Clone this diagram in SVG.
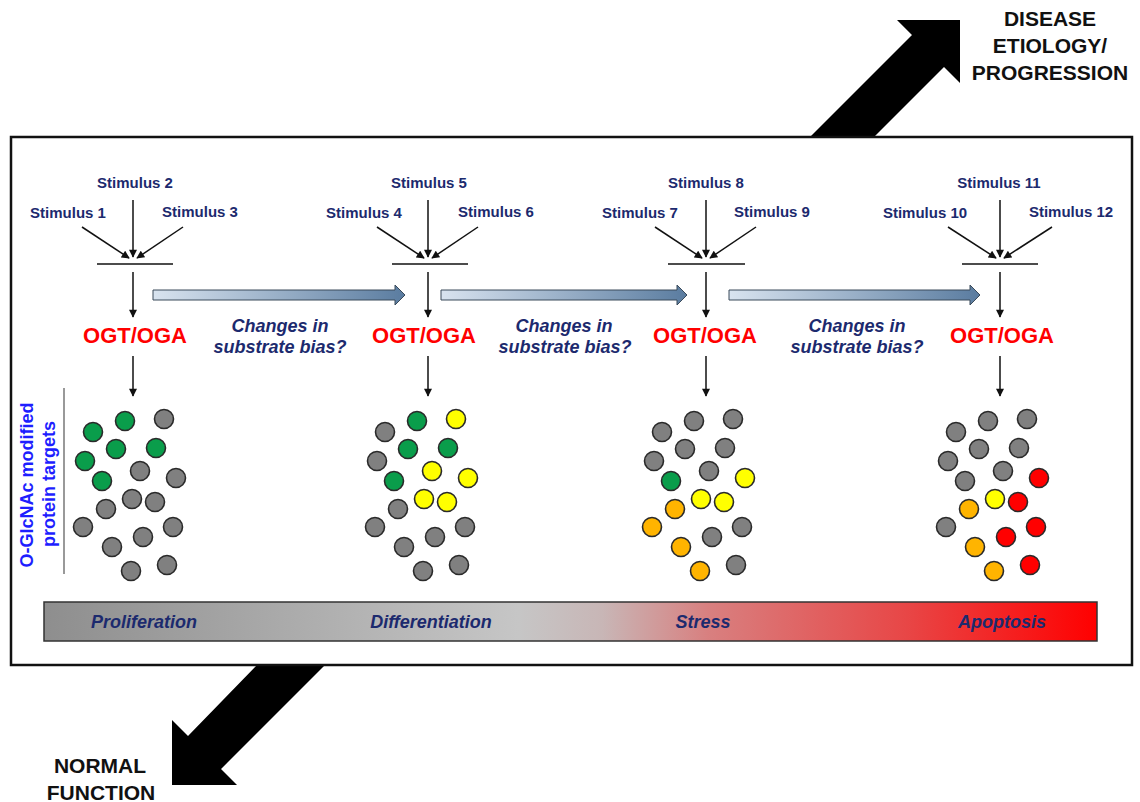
<svg xmlns="http://www.w3.org/2000/svg" width="1140" height="802" viewBox="0 0 1140 802">
<style>
.stim{font-family:"Liberation Sans",Arial,sans-serif;font-weight:bold;font-size:15px;fill:#1c2a6e;text-anchor:middle}
.ogt{font-family:"Liberation Sans",Arial,sans-serif;font-weight:bold;font-size:22px;fill:#ff0000;text-anchor:middle}
.chg{font-family:"Liberation Sans",Arial,sans-serif;font-weight:bold;font-style:italic;font-size:18px;fill:#1c2a6e;text-anchor:middle}
.bar{font-family:"Liberation Sans",Arial,sans-serif;font-weight:bold;font-style:italic;font-size:18px;fill:#1c2a6e;text-anchor:middle}
.big{font-family:"Liberation Sans",Arial,sans-serif;font-weight:bold;font-size:21px;fill:#111;text-anchor:middle}
.vlab{font-family:"Liberation Sans",Arial,sans-serif;font-weight:bold;font-size:18px;fill:#1e1eff;text-anchor:middle}
.ln{stroke:#111;stroke-width:1.5;fill:none}
.arr{stroke:#111;stroke-width:1.5;fill:none;marker-end:url(#ah)}
.blk{fill:url(#bg);stroke:#3a4a5a;stroke-width:1}
circle{stroke:#2a2a2a;stroke-width:1.6}
.g{fill:#0a9d4b}.k{fill:#808080}.y{fill:#ffff00}.o{fill:#ffb400}.r{fill:#ff0000}
</style>
<defs>
<marker id="ah" viewBox="0 0 10 10" refX="9" refY="5" markerWidth="9" markerHeight="8" orient="auto" markerUnits="userSpaceOnUse">
<path d="M0,0 L10,5 L0,10 z" fill="#111"/>
</marker>
<linearGradient id="bg" x1="0" y1="0" x2="1" y2="0">
<stop offset="0" stop-color="#d8e3ef"/>
<stop offset="1" stop-color="#5a7ca0"/>
</linearGradient>
<linearGradient id="pg" x1="0" y1="0" x2="1" y2="0">
<stop offset="0" stop-color="#8e8e8e"/>
<stop offset="0.45" stop-color="#c6c6c6"/>
<stop offset="0.53" stop-color="#c8b6b6"/>
<stop offset="0.63" stop-color="#d88080"/>
<stop offset="0.82" stop-color="#e84646"/>
<stop offset="1" stop-color="#ff0000"/>
</linearGradient>
</defs>
<rect width="1140" height="802" fill="#ffffff"/>

<g id="disease-arrow">
<polygon points="810,137 912,35 897,20 960,20 960,83 944,67 874,137" fill="#000"/>
<text class="big" x="1050" y="26">DISEASE</text>
<text class="big" x="1050" y="53">ETIOLOGY/</text>
<text class="big" x="1050" y="80">PROGRESSION</text>
</g>
<g id="normal-arrow">
<polygon points="257,665 188,736 172,720 172,785 237,785 221,769 325,665" fill="#000"/>
<text class="big" x="100" y="773">NORMAL</text>
<text class="big" x="101" y="800">FUNCTION</text>
</g>

<rect id="frame" x="11" y="137" width="1121" height="528" fill="#fff" stroke="#111" stroke-width="2.5"/>

<g id="ylabel">
<text class="vlab" transform="translate(33,485) rotate(-90)">O-GlcNAc modified</text>
<text class="vlab" transform="translate(55,484) rotate(-90)">protein targets</text>
<line x1="64" y1="388" x2="64" y2="574" stroke="#555" stroke-width="1.2"/>
</g>

<g id="connectors">
<polygon class="blk" points="153,290 395,290 395,285 405,295 395,305 395,300 153,300"/>
<polygon class="blk" points="441,290 677,290 677,285 687,295 677,305 677,300 441,300"/>
<polygon class="blk" points="729,290 970,290 970,285 980,295 970,305 970,300 729,300"/>
</g>

<g id="stage1">
<text class="stim" x="135" y="188">Stimulus 2</text>
<text class="stim" x="68" y="218">Stimulus 1</text>
<text class="stim" x="200" y="217">Stimulus 3</text>
<line class="arr" x1="133" y1="200" x2="133" y2="257"/>
<line class="arr" x1="82" y1="227" x2="129" y2="258"/>
<line class="arr" x1="183" y1="227" x2="137" y2="258"/>
<line class="ln" x1="97" y1="264" x2="173" y2="264"/>
<line class="arr" x1="133" y1="272" x2="133" y2="317"/>
<text class="ogt" x="135" y="343">OGT/OGA</text>
<line class="arr" x1="133" y1="356" x2="133" y2="396"/>
<g transform="translate(0,0)">
<circle class="g" cx="93" cy="432" r="9.5"/><circle class="g" cx="125" cy="421" r="9.5"/><circle class="k" cx="164" cy="419" r="9.5"/>
<circle class="g" cx="116" cy="449" r="9.5"/><circle class="g" cx="156" cy="448" r="9.5"/><circle class="g" cx="85" cy="461" r="9.5"/>
<circle class="k" cx="140" cy="471" r="9.5"/><circle class="k" cx="176" cy="478" r="9.5"/><circle class="g" cx="102" cy="481" r="9.5"/>
<circle class="k" cx="132" cy="499" r="9.5"/><circle class="k" cx="155" cy="502" r="9.5"/><circle class="k" cx="106" cy="509" r="9.5"/>
<circle class="k" cx="83" cy="527" r="9.5"/><circle class="k" cx="173" cy="527" r="9.5"/><circle class="k" cx="143" cy="537" r="9.5"/>
<circle class="k" cx="112" cy="547" r="9.5"/><circle class="k" cx="167" cy="565" r="9.5"/><circle class="k" cx="131" cy="571" r="9.5"/>
</g>
</g>
<text class="chg" x="280" y="332">Changes in</text>
<text class="chg" x="280" y="353">substrate bias?</text>

<g id="stage2">
<text class="stim" x="429" y="188">Stimulus 5</text>
<text class="stim" x="364" y="218">Stimulus 4</text>
<text class="stim" x="496" y="217">Stimulus 6</text>
<line class="arr" x1="428" y1="200" x2="428" y2="257"/>
<line class="arr" x1="377" y1="227" x2="424" y2="258"/>
<line class="arr" x1="478" y1="227" x2="432" y2="258"/>
<line class="ln" x1="392" y1="264" x2="468" y2="264"/>
<line class="arr" x1="428" y1="272" x2="428" y2="317"/>
<text class="ogt" x="424" y="343">OGT/OGA</text>
<line class="arr" x1="428" y1="356" x2="428" y2="396"/>
<g transform="translate(292,0)">
<circle class="k" cx="93" cy="432" r="9.5"/><circle class="g" cx="125" cy="421" r="9.5"/><circle class="y" cx="164" cy="419" r="9.5"/>
<circle class="g" cx="116" cy="449" r="9.5"/><circle class="g" cx="156" cy="448" r="9.5"/><circle class="k" cx="85" cy="461" r="9.5"/>
<circle class="y" cx="140" cy="471" r="9.5"/><circle class="y" cx="176" cy="478" r="9.5"/><circle class="g" cx="102" cy="481" r="9.5"/>
<circle class="y" cx="132" cy="499" r="9.5"/><circle class="y" cx="155" cy="502" r="9.5"/><circle class="k" cx="106" cy="509" r="9.5"/>
<circle class="k" cx="83" cy="527" r="9.5"/><circle class="k" cx="173" cy="527" r="9.5"/><circle class="k" cx="143" cy="537" r="9.5"/>
<circle class="k" cx="112" cy="547" r="9.5"/><circle class="k" cx="167" cy="565" r="9.5"/><circle class="k" cx="131" cy="571" r="9.5"/>
</g>
</g>
<text class="chg" x="564" y="332">Changes in</text>
<text class="chg" x="565" y="353">substrate bias?</text>

<g id="stage3">
<text class="stim" x="706" y="188">Stimulus 8</text>
<text class="stim" x="640" y="218">Stimulus 7</text>
<text class="stim" x="772" y="217">Stimulus 9</text>
<line class="arr" x1="706" y1="200" x2="706" y2="257"/>
<line class="arr" x1="655" y1="227" x2="702" y2="258"/>
<line class="arr" x1="756" y1="227" x2="710" y2="258"/>
<line class="ln" x1="668" y1="264" x2="745" y2="264"/>
<line class="arr" x1="706" y1="272" x2="706" y2="317"/>
<text class="ogt" x="705" y="343">OGT/OGA</text>
<line class="arr" x1="706" y1="356" x2="706" y2="396"/>
<g transform="translate(569,0)">
<circle class="k" cx="93" cy="432" r="9.5"/><circle class="k" cx="125" cy="421" r="9.5"/><circle class="k" cx="164" cy="419" r="9.5"/>
<circle class="k" cx="116" cy="449" r="9.5"/><circle class="k" cx="156" cy="448" r="9.5"/><circle class="k" cx="85" cy="461" r="9.5"/>
<circle class="k" cx="140" cy="471" r="9.5"/><circle class="y" cx="176" cy="478" r="9.5"/><circle class="g" cx="102" cy="481" r="9.5"/>
<circle class="y" cx="132" cy="499" r="9.5"/><circle class="y" cx="155" cy="502" r="9.5"/><circle class="o" cx="106" cy="509" r="9.5"/>
<circle class="o" cx="83" cy="527" r="9.5"/><circle class="k" cx="173" cy="527" r="9.5"/><circle class="k" cx="143" cy="537" r="9.5"/>
<circle class="o" cx="112" cy="547" r="9.5"/><circle class="k" cx="167" cy="565" r="9.5"/><circle class="o" cx="131" cy="571" r="9.5"/>
</g>
</g>
<text class="chg" x="857" y="332">Changes in</text>
<text class="chg" x="857" y="353">substrate bias?</text>

<g id="stage4">
<text class="stim" x="999" y="188">Stimulus 11</text>
<text class="stim" x="925" y="218">Stimulus 10</text>
<text class="stim" x="1071" y="217">Stimulus 12</text>
<line class="arr" x1="1000" y1="200" x2="1000" y2="257"/>
<line class="arr" x1="948" y1="227" x2="996" y2="258"/>
<line class="arr" x1="1052" y1="227" x2="1004" y2="258"/>
<line class="ln" x1="962" y1="264" x2="1038" y2="264"/>
<line class="arr" x1="1000" y1="272" x2="1000" y2="317"/>
<text class="ogt" x="1002" y="343">OGT/OGA</text>
<line class="arr" x1="1000" y1="356" x2="1000" y2="396"/>
<g transform="translate(863,0)">
<circle class="k" cx="93" cy="432" r="9.5"/><circle class="k" cx="125" cy="421" r="9.5"/><circle class="k" cx="164" cy="419" r="9.5"/>
<circle class="k" cx="116" cy="449" r="9.5"/><circle class="k" cx="156" cy="448" r="9.5"/><circle class="k" cx="85" cy="461" r="9.5"/>
<circle class="k" cx="140" cy="471" r="9.5"/><circle class="r" cx="176" cy="478" r="9.5"/><circle class="k" cx="102" cy="481" r="9.5"/>
<circle class="y" cx="132" cy="499" r="9.5"/><circle class="r" cx="155" cy="502" r="9.5"/><circle class="o" cx="106" cy="509" r="9.5"/>
<circle class="k" cx="83" cy="527" r="9.5"/><circle class="r" cx="173" cy="527" r="9.5"/><circle class="r" cx="143" cy="537" r="9.5"/>
<circle class="o" cx="112" cy="547" r="9.5"/><circle class="r" cx="167" cy="565" r="9.5"/><circle class="o" cx="131" cy="571" r="9.5"/>
</g>
</g>

<g id="phase-bar">
<rect x="44" y="602" width="1053" height="39" fill="url(#pg)" stroke="#333" stroke-width="1.5"/>
<text class="bar" x="144" y="628">Proliferation</text>
<text class="bar" x="431" y="628">Differentiation</text>
<text class="bar" x="703" y="628">Stress</text>
<text class="bar" x="1002" y="628">Apoptosis</text>
</g>
</svg>
